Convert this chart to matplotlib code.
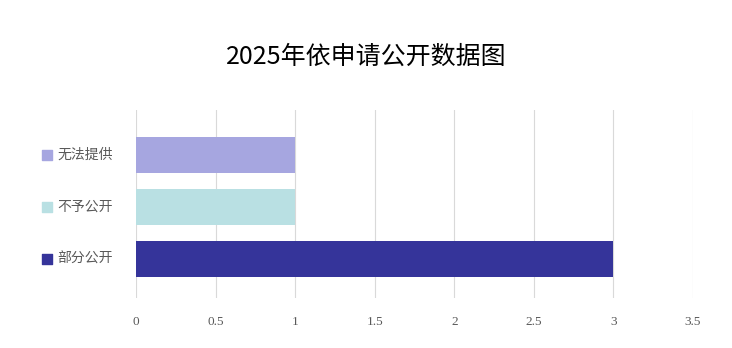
import matplotlib
matplotlib.use("Agg")
import matplotlib.pyplot as plt
import matplotlib.transforms as mtransforms

categories = ["部分公开", "不予公开", "无法提供"]
values = [3, 1, 1]
colors = ["#35349a", "#b9e0e3", "#a6a6e0"]
xticks = [0, 0.5, 1, 1.5, 2, 2.5, 3, 3.5]
xticklabels = ["0", "0.5", "1", "1.5", "2", "2.5", "3", "3.5"]
title = "2025年依申请公开数据图"

plt.rcParams['font.family'] = ['Noto Sans CJK SC', 'DejaVu Sans']

fig = plt.figure(figsize=(7.32, 3.48), dpi=100)
ax = fig.add_axes([136 / 732, 1 - 298 / 348, 557 / 732, 188 / 348])

ypos = list(range(len(categories)))
ax.barh(ypos, values, height=0.7, color=colors, zorder=3)
ax.set_xlim(0, 3.5)
ax.set_ylim(-0.75, 2.87)

ax.set_xticks(xticks)
ax.set_xticklabels(xticklabels, family='Liberation Serif', fontsize=9.5, color='#595959')
ax.tick_params(axis='x', length=0, pad=13)
ax.set_yticks([])
ax.grid(axis='x', color='#d9d9d9', linewidth=0.8, zorder=0)
for s in ax.spines.values():
    s.set_visible(False)

trans = mtransforms.blended_transform_factory(ax.transAxes, ax.transData)
for y, name, c in zip(ypos, categories, colors):
    ax.scatter([-0.1598], [y], marker='s', s=45, color=c, transform=trans, clip_on=False)
    ax.text(-0.1418, y, name, transform=trans, ha='left', va='center',
            fontsize=10, color='#595959')

fig.text(0.5, 1 - 57 / 348, title, ha='center', va='center', fontsize=18, color='black')

fig.savefig("out.png", dpi=100)
